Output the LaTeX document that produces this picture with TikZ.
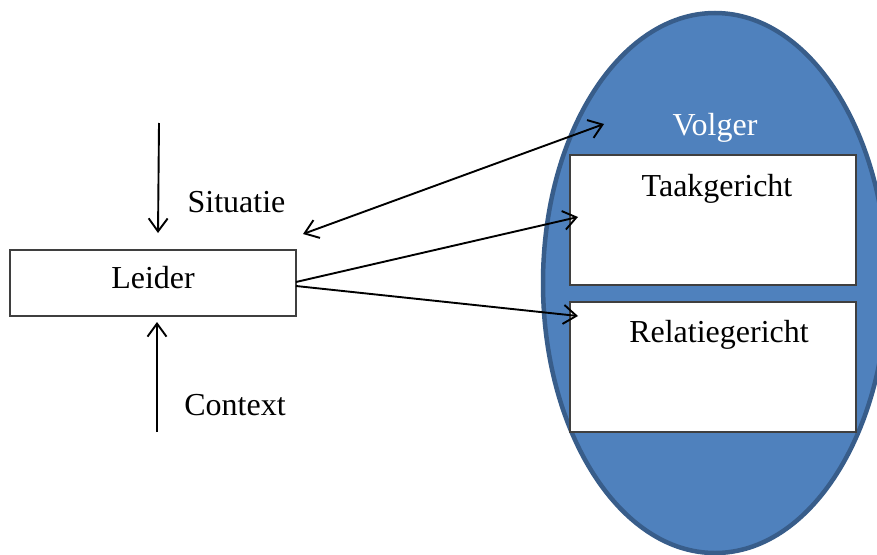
\documentclass[tikz,border=0pt]{standalone}
\usepackage{fontspec}
\setmainfont{Liberation Serif}
\usetikzlibrary{arrows.meta,shapes.geometric}
\definecolor{volgerfill}{HTML}{4F81BD}
\definecolor{volgerline}{HTML}{385D8A}
\definecolor{boxline}{HTML}{3F3F3F}
\tikzset{
  txt/.style={font=\fontsize{32}{37}\selectfont, anchor=base, inner sep=0pt},
  whitebox/.style={draw=boxline, line width=1.5pt, fill=white, inner sep=0pt},
  arr/.style={line width=1.9pt, -{Straight Barb[length=13pt,width=19pt,line width=1.9pt]}},
  darr/.style={line width=1.9pt, {Straight Barb[length=13pt,width=19pt,line width=1.9pt]}-{Straight Barb[length=13pt,width=19pt,line width=1.9pt]}},
}
\begin{document}
\begin{tikzpicture}[x=1pt,y=-1pt]
\useasboundingbox (0,0) rectangle (877,554);
\clip (0,0) rectangle (877,554);
% Volger ellipse
\node[draw=volgerline, fill=volgerfill, line width=4.5pt, ellipse, minimum width=344pt, minimum height=540pt, inner sep=0pt] (volger) at (715,283) {};
\node[txt, text=white] (volgertxt) at (715,135) {Volger};
% boxes
\node[whitebox, minimum width=286pt, minimum height=130pt] (taak) at (713,220) {};
\node[txt] (taaktxt) at (717,196) {Taakgericht};
\node[whitebox, minimum width=286pt, minimum height=130pt] (rel) at (713,367) {};
\node[txt] (reltxt) at (719,342) {Relatiegericht};
\node[whitebox, minimum width=286pt, minimum height=66pt] (leider) at (153,283) {};
\node[txt] (leidertxt) at (153,288) {Leider};
% labels
\node[txt] (sit) at (236.5,212) {Situatie};
\node[txt] (ctx) at (235,415) {Context};
% coordinates
\coordinate (sitstart) at (159,123);
\coordinate (sitend) at (158,233);
\coordinate (ctxstart) at (157,432);
\coordinate (ctxend) at (157,322);
\coordinate (dA) at (303,234);
\coordinate (dB) at (604,124);
\coordinate (l1) at (296,282);
\coordinate (t1) at (578,217);
\coordinate (l2) at (296,286);
\coordinate (r1) at (578,316);
% arrows
\draw[arr] (sitstart) -- (sitend);
\draw[arr] (ctxstart) -- (ctxend);
\draw[darr] (dA) -- (dB);
\draw[arr] (l1) -- (t1);
\draw[arr] (l2) -- (r1);
\end{tikzpicture}
\end{document}
